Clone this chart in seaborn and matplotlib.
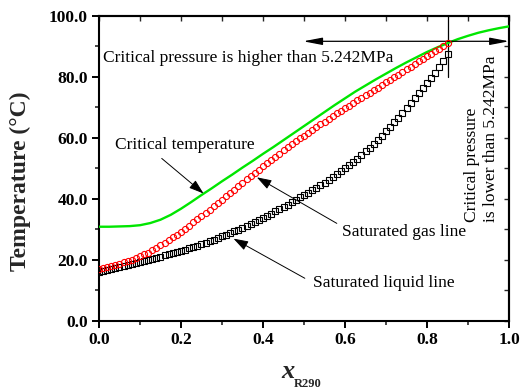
import numpy as np
import matplotlib
matplotlib.use("Agg")
import matplotlib.pyplot as plt
import seaborn as sns
from matplotlib.ticker import MultipleLocator, FormatStrFormatter

# ---------------- data ----------------
x_crit = [0.000, 0.025, 0.050, 0.075, 0.100, 0.125, 0.150, 0.175, 0.200, 0.225,
          0.250, 0.275, 0.300, 0.325, 0.350, 0.375, 0.400, 0.425, 0.450, 0.475,
          0.500, 0.525, 0.550, 0.575, 0.600, 0.625, 0.650, 0.675, 0.700, 0.725,
          0.750, 0.775, 0.800, 0.825, 0.850, 0.875, 0.900, 0.925, 0.950, 0.975,
          1.000]
t_crit = [30.9, 30.9, 31.0, 31.1, 31.4, 32.1, 33.2, 34.8, 36.8, 39.0,
          41.3, 43.5, 45.8, 48.0, 50.3, 52.5, 54.8, 57.0, 59.3, 61.6,
          63.9, 66.2, 68.5, 70.8, 73.0, 75.2, 77.2, 79.2, 81.1, 83.0,
          84.8, 86.5, 88.2, 89.7, 91.1, 92.4, 93.5, 94.5, 95.3, 96.0,
          96.6]

x_mole = np.linspace(0.0, 0.85, 86)
t_gas = [17.0, 17.33, 17.68, 18.05, 18.42, 18.8,
         19.22, 19.66, 20.13, 20.65, 21.2,
         21.8, 22.45, 23.15, 23.95, 24.8,
         25.65, 26.52, 27.42, 28.35, 29.3,
         30.3, 31.3, 32.32, 33.35, 34.4,
         35.46, 36.53, 37.6, 38.7, 39.8,
         40.9, 42.0, 43.1, 44.2, 45.3,
         46.4, 47.48, 48.56, 49.63, 50.7,
         51.75, 52.8, 53.84, 54.87, 55.9,
         56.9, 57.9, 58.88, 59.85, 60.8,
         61.73, 62.66, 63.58, 64.5, 65.4,
         66.29, 67.17, 68.05, 68.93, 69.8,
         70.65, 71.5, 72.34, 73.17, 74.0,
         74.84, 75.68, 76.52, 77.36, 78.2,
         79.06, 79.92, 80.78, 81.64, 82.5,
         83.36, 84.22, 85.08, 85.94, 86.8,
         87.64, 88.48, 89.32, 90.16, 91.0]
t_liq = [16.2, 16.51, 16.82, 17.14, 17.46, 17.8,
         18.12, 18.44, 18.76, 19.08, 19.4,
         19.73, 20.06, 20.4, 20.75, 21.1,
         21.47, 21.84, 22.22, 22.6, 23.0,
         23.42, 23.85, 24.29, 24.74, 25.2,
         25.68, 26.17, 26.67, 27.18, 27.7,
         28.24, 28.79, 29.35, 29.92, 30.5,
         31.13, 31.78, 32.44, 33.11, 33.8,
         34.5, 35.2, 35.91, 36.65, 37.4,
         38.16, 38.93, 39.71, 40.5, 41.3,
         42.1, 42.9, 43.72, 44.55, 45.4,
         46.3, 47.2, 48.1, 49.04, 50.0,
         51.05, 52.1, 53.2, 54.37, 55.6,
         56.85, 58.1, 59.4, 60.77, 62.2,
         63.67, 65.15, 66.65, 68.2, 69.8,
         71.4, 73.0, 74.6, 76.23, 77.9,
         79.6, 81.4, 83.3, 85.35, 87.6]

x_critical_point = 0.85
t_critical_point = 91.7

# ---------------- style ----------------
sns.set_theme(style="ticks")
plt.rcParams["font.family"] = ["Liberation Serif", "DejaVu Serif"]
plt.rcParams["font.weight"] = "bold"

fig = plt.figure(figsize=(5.21, 3.9), dpi=100)
ax = fig.add_axes([0.190, 0.177, 0.787, 0.782])

sns.lineplot(x=x_crit, y=t_crit, ax=ax, color="#00e600", lw=1.7, zorder=3)
sns.lineplot(x=x_mole, y=t_liq, ax=ax, ls="none", marker="s", markersize=4.2,
             markerfacecolor="none", markeredgecolor="black",
             markeredgewidth=0.8, zorder=4)
sns.lineplot(x=x_mole, y=t_gas, ax=ax, ls="none", marker="o", markersize=4.4,
             markerfacecolor="none", markeredgecolor="red",
             markeredgewidth=0.8, zorder=5)

ax.set_xlim(0, 1)
ax.set_ylim(0, 100)
ax.set_xlabel("")
ax.set_ylabel("")
ax.xaxis.set_major_locator(MultipleLocator(0.2))
ax.xaxis.set_minor_locator(MultipleLocator(0.1))
ax.yaxis.set_major_locator(MultipleLocator(20))
ax.yaxis.set_minor_locator(MultipleLocator(10))
ax.xaxis.set_major_formatter(FormatStrFormatter("%.1f"))
ax.yaxis.set_major_formatter(FormatStrFormatter("%.1f"))
ax.tick_params(which="major", direction="out", length=5, width=1.4,
               labelsize=12.5, pad=3, colors="black")
ax.tick_params(which="minor", direction="out", length=3, width=1.2)
for s in ax.spines.values():
    s.set_linewidth(1.5)
    s.set_color("black")
    s.set_visible(True)

secx = ax.secondary_xaxis("top")
secx.xaxis.set_major_locator(MultipleLocator(0.1))
secx.tick_params(direction="in", length=3.5, width=1.0, labeltop=False)
secx.spines["top"].set_linewidth(1.5)
secy = ax.secondary_yaxis("right")
secy.yaxis.set_major_locator(MultipleLocator(10))
secy.tick_params(direction="in", length=3.5, width=1.0, labelright=False)
secy.spines["right"].set_linewidth(1.5)

# labels
fig.text(20 / 521, 1 - 181 / 390, "Temperature (°C)", rotation=90,
         ha="center", va="center", fontsize=17, fontweight="bold")
fig.text(288 / 521, 1 - 378 / 390, "x", ha="center", va="baseline",
         fontsize=19, fontweight="bold", fontstyle="italic")
fig.text(294 / 521, 1 - 387 / 390, "R290", ha="left", va="baseline",
         fontsize=9, fontweight="bold")

# critical point markers
ax.plot([x_critical_point, x_critical_point], [100, 80], color="black", lw=0.9)
big_head = "-|>,head_length=1.15,head_width=0.22"
ax.annotate("", xy=(0.498, t_critical_point), xytext=(x_critical_point, t_critical_point),
            arrowprops=dict(arrowstyle=big_head, color="black", lw=0.9,
                            shrinkA=0, shrinkB=0, mutation_scale=10))
ax.annotate("", xy=(1.0, t_critical_point), xytext=(x_critical_point, t_critical_point),
            arrowprops=dict(arrowstyle=big_head, color="black", lw=0.9,
                            shrinkA=0, shrinkB=0, mutation_scale=10))

small_head = "-|>,head_length=0.9,head_width=0.3"
arrows = [((0.255, 41.8), (0.153, 53.3)),
          ((0.385, 47.1), (0.580, 32.0)),
          ((0.328, 27.0), (0.502, 14.0))]
for head, tail in arrows:
    ax.annotate("", xy=head, xytext=tail,
                arrowprops=dict(arrowstyle=small_head, color="black", lw=0.7,
                                shrinkA=0, shrinkB=0, mutation_scale=10))

tkw = dict(fontsize=12.5, fontweight="normal", color="black")
ax.text(0.210, 57.7, "Critical temperature", ha="center", va="center", **tkw)
ax.text(0.744, 29.2, "Saturated gas line", ha="center", va="center", **tkw)
ax.text(0.695, 12.6, "Saturated liquid line", ha="center", va="center", **tkw)
ax.text(0.363, 86.1, "Critical pressure is higher than 5.242MPa",
        ha="center", va="center", **tkw)
ax.text(0.933, 32.5, "Critical pressure\nis lower than 5.242MPa", rotation=90,
        ha="center", va="bottom", multialignment="left", linespacing=1.3, **tkw)

fig.savefig("out.png", dpi=100)
